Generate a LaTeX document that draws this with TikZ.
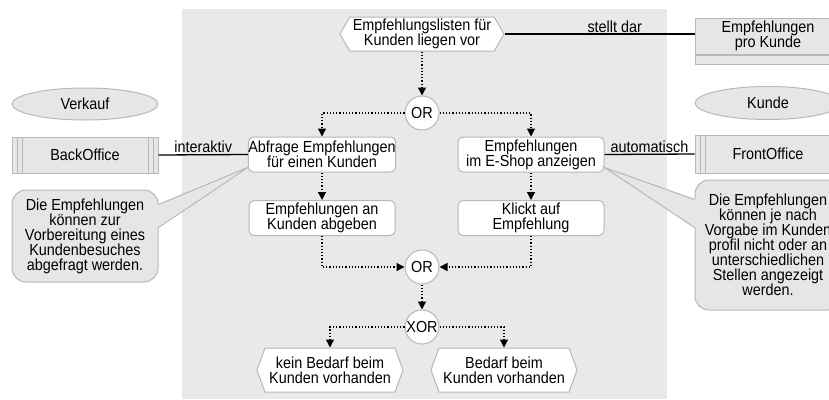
\documentclass[tikz,border=0pt]{standalone}
\usepackage{fontspec}
\setmainfont[FakeStretch=0.9]{Liberation Sans}
\usetikzlibrary{shapes.symbols,shapes.geometric,arrows.meta,calc}

\definecolor{panel}{HTML}{E9E9E9}
\definecolor{edge}{HTML}{B8B8B8}
\definecolor{soft}{HTML}{E6E6E6}

\begin{document}
\begin{tikzpicture}[x=1pt,y=-1pt,
  every node/.style={font=\fontsize{16}{15}\selectfont, align=center, inner sep=0pt},
  task/.style={rectangle, rounded corners=5pt, draw=edge, fill=white, line width=1pt,
    minimum width=146pt, minimum height=35pt},
  event/.style={signal, signal to=west and east, draw=edge, fill=white, line width=1pt},
  gate/.style={circle, draw=edge, fill=white, line width=1pt, minimum size=34pt},
  unit/.style={ellipse, draw=edge, fill=soft, line width=1pt, minimum width=146pt},
  compart/.style={rectangle, draw=edge, fill=soft, line width=1pt, minimum width=146pt},
  system/.style={rectangle, draw=edge, fill=soft, line width=1pt, minimum width=146pt,
    path picture={
      \foreach \d in {5,10}{
        \draw[edge, line width=0.8pt]
          ([xshift=\d pt]path picture bounding box.north west) --
          ([xshift=\d pt]path picture bounding box.south west);
        \draw[edge, line width=0.8pt]
          ([xshift=-\d pt]path picture bounding box.north east) --
          ([xshift=-\d pt]path picture bounding box.south east);
      }}},
  note/.style={rectangle, rounded corners=14pt, draw=edge, fill=soft, line width=1pt,
    minimum width=146pt},
  flow/.style={dotted, line width=1.2pt, -{Triangle[length=8pt,width=8pt]}},
  link/.style={line width=1.3pt, black},
  tag/.style={inner sep=1pt}
]
\useasboundingbox (0,0) rectangle (829,399);

% grey process lane
\fill[panel] (182,9) rectangle (667,399);

% process elements
\node[event, minimum width=164pt, minimum height=34pt, signal pointer angle=120] (start) at (422,34)
  {Empfehlungslisten für\\Kunden liegen vor};
\node[gate] (or1) at (422,113) {OR};
\node[task] (abf) at (322,154.5) {Abfrage Empfehlungen\\für einen Kunden};
\node[task] (shop) at (531,154.5) {Empfehlungen\\im E-Shop anzeigen};
\node[task] (abgeben) at (322,218) {Empfehlungen an\\Kunden abgeben};
\node[task] (klickt) at (531,218) {Klickt auf\\Empfehlung};
\node[gate] (or2) at (422,267) {OR};
\node[gate] (xor) at (422,327) {XOR};
\node[event, minimum width=146pt, minimum height=44pt, signal pointer angle=140] (kein) at (330,370)
  {kein Bedarf beim\\Kunden vorhanden};
\node[event, minimum width=146pt, minimum height=44pt, signal pointer angle=140] (bedarf) at (504,370)
  {Bedarf beim\\Kunden vorhanden};

% side elements
\node[compart, minimum height=36pt] (ent) at (768,36) {Empfehlungen\\pro Kunde};
\node[compart, minimum height=9pt, anchor=north] (entfoot) at (ent.south) {};
\node[unit, minimum height=32pt] (verkauf) at (85,104) {Verkauf};
\node[unit, minimum height=33pt] (kunde) at (768,103) {Kunde};
\node[system, minimum height=36pt] (back) at (85,155) {BackOffice};
\node[system, minimum height=38pt] (front) at (768,154) {FrontOffice};
\node[note, minimum height=92pt] (lnote) at (85,236)
  {Die Empfehlungen\\können zur\\Vorbereitung eines\\Kundenbesuches\\abgefragt werden.};
\node[note, minimum height=130pt] (rnote) at (768,245)
  {Die Empfehlungen\\können je nach\\Vorgabe im Kunden\\profil nicht oder an\\unterschiedlichen\\Stellen angezeigt\\werden.};

% callout pointers
\coordinate (ltip) at ([yshift=5pt]abf.south west);
\coordinate (lb1) at ([yshift=-15pt]lnote.north east);
\coordinate (lb2) at ([yshift=-38pt]lnote.north east);
\fill[soft] ([xshift=-1.5pt]lb1) -- (ltip) -- ([xshift=-1.5pt]lb2) -- cycle;
\draw[edge, line width=1pt] (lb1) -- (ltip) -- (lb2);

\coordinate (rtip) at ([yshift=5pt]shop.south east);
\coordinate (rb1) at ([yshift=-20pt]rnote.north west);
\coordinate (rb2) at ([yshift=-48pt]rnote.north west);
\fill[soft] ([xshift=1.5pt]rb1) -- (rtip) -- ([xshift=1.5pt]rb2) -- cycle;
\draw[edge, line width=1pt] (rb1) -- (rtip) -- (rb2);

% associations
\draw[link] (start.east) -- node[tag, above, pos=0.58] (lstellt) {stellt dar} (start.east -| ent.west);
\draw[link] (back.east) -- node[tag, above] (linter) {interaktiv} (abf.west);
\draw[link] (shop.east) -- node[tag, above] (lauto) {automatisch} (front.west);

% control flow
\draw[flow] (start.south) -- (or1.north);
\draw[flow] (or1.west) -| (abf.north);
\draw[flow] (or1.east) -| (shop.north);
\draw[flow] (abf.south) -- (abgeben.north);
\draw[flow] (shop.south) -- (klickt.north);
\draw[flow] (abgeben.south) |- (or2.west);
\draw[flow] (klickt.south) |- (or2.east);
\draw[flow] (or2.south) -- (xor.north);
\draw[flow] (xor.west) -| (kein.north);
\draw[flow] (xor.east) -| (bedarf.north);
\end{tikzpicture}
\end{document}
